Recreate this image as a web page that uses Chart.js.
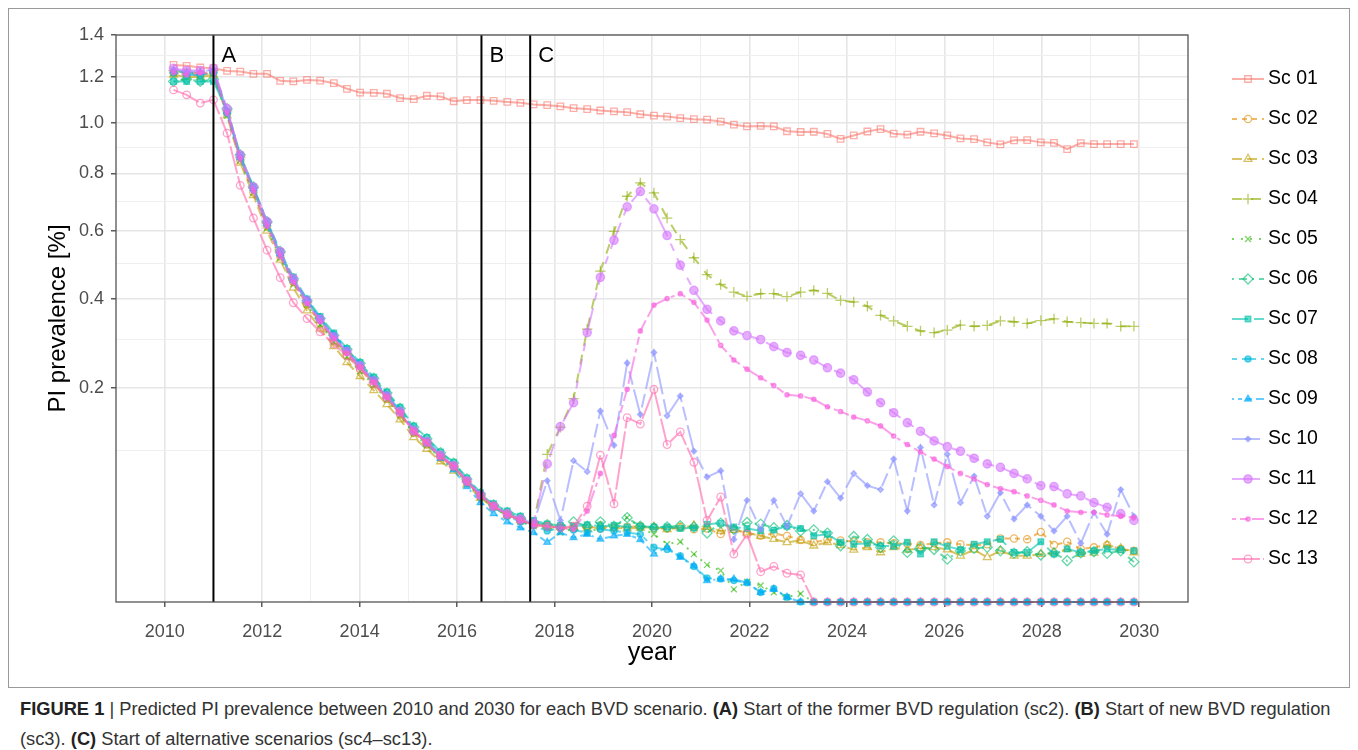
<!DOCTYPE html>
<html>
<head>
<meta charset="utf-8">
<title>PI prevalence</title>
<script src="https://cdn.jsdelivr.net/npm/chart.js"></script>
<style>
  body { margin: 0; background: #fff; font-family: "Liberation Sans", Arial, sans-serif; }
  #frame { position: absolute; left: 8px; top: 8px; width: 1342px; height: 680px; border: 1px solid #9a9a9a; box-sizing: border-box; }
  #chartBox { position: absolute; left: 0; top: 0; width: 1358px; height: 680px; }
  #caption { position: absolute; left: 20px; top: 694px; font-size: 18.3px; line-height: 30px; color: #333; white-space: nowrap; }
  #caption b { color: #222; }
</style>
</head>
<body>
<div id="frame"></div>
<div id="chartBox"><canvas id="myChart" width="1358" height="680"></canvas></div>
<div id="caption"><b>FIGURE 1</b> | Predicted PI prevalence between 2010 and 2030 for each BVD scenario. <b>(A)</b> Start of the former BVD regulation (sc2). <b>(B)</b> Start of new BVD regulation<br>(sc3). <b>(C)</b> Start of alternative scenarios (sc4–sc13).</div>
<script>
// time points (one every ~100 days)
const years = [
  2010.18, 2010.45, 2010.73, 2011.00, 2011.28, 2011.55, 2011.82, 2012.10, 2012.37, 2012.64,
  2012.92, 2013.19, 2013.47, 2013.74, 2014.01, 2014.29, 2014.56, 2014.83, 2015.11, 2015.38,
  2015.66, 2015.93, 2016.20, 2016.48, 2016.75, 2017.03, 2017.30, 2017.57, 2017.85, 2018.12,
  2018.39, 2018.67, 2018.94, 2019.22, 2019.49, 2019.76, 2020.04, 2020.31, 2020.58, 2020.86,
  2021.13, 2021.41, 2021.68, 2021.95, 2022.23, 2022.50, 2022.77, 2023.05, 2023.32, 2023.60,
  2023.87, 2024.14, 2024.42, 2024.69, 2024.96, 2025.24, 2025.51, 2025.79, 2026.06, 2026.33,
  2026.61, 2026.88, 2027.15, 2027.43, 2027.70, 2027.98, 2028.25, 2028.52, 2028.80, 2029.07,
  2029.34, 2029.62, 2029.89
];

// PI prevalence [%] per scenario
const sc01 = [
  1.256, 1.252, 1.244, 1.241, 1.228, 1.225, 1.215, 1.215, 1.183, 1.180,
  1.187, 1.184, 1.172, 1.147, 1.130, 1.129, 1.125, 1.106, 1.101, 1.116,
  1.113, 1.092, 1.097, 1.097, 1.094, 1.089, 1.085, 1.078, 1.075, 1.070,
  1.062, 1.058, 1.052, 1.048, 1.045, 1.036, 1.030, 1.026, 1.020, 1.015,
  1.013, 1.005, 0.992, 0.985, 0.987, 0.985, 0.965, 0.962, 0.963, 0.954,
  0.934, 0.948, 0.964, 0.974, 0.955, 0.951, 0.963, 0.956, 0.948, 0.936,
  0.933, 0.920, 0.912, 0.928, 0.929, 0.920, 0.918, 0.893, 0.917, 0.913,
  0.913, 0.913, 0.913
];
const sc02 = [
  1.220, 1.210, 1.210, 1.220, 1.040, 0.850, 0.730, 0.615, 0.520, 0.445,
  0.385, 0.338, 0.298, 0.265, 0.236, 0.207, 0.180, 0.153, 0.125, 0.108,
  0.091, 0.079, 0.063, 0.048, 0.039, 0.033, 0.029, 0.026, 0.025, 0.024,
  0.0235, 0.025, 0.0235, 0.024, 0.0245, 0.025, 0.024, 0.0235, 0.0245, 0.023,
  0.0235, 0.0201, 0.023, 0.0207, 0.0191, 0.0205, 0.019, 0.0168, 0.0155, 0.017,
  0.0165, 0.016, 0.0155, 0.0155, 0.015, 0.0148, 0.0141, 0.015, 0.0155, 0.0145,
  0.014, 0.0145, 0.0176, 0.0176, 0.0172, 0.0214, 0.0141, 0.0158, 0.0122, 0.013,
  0.0141, 0.0122, 0.0114
];
const sc03 = [
  1.210, 1.200, 1.200, 1.210, 1.030, 0.840, 0.720, 0.600, 0.510, 0.430,
  0.370, 0.325, 0.285, 0.250, 0.222, 0.195, 0.170, 0.145, 0.118, 0.102,
  0.086, 0.075, 0.060, 0.047, 0.039, 0.033, 0.029, 0.026, 0.025, 0.0245,
  0.024, 0.0235, 0.025, 0.024, 0.0235, 0.024, 0.0245, 0.023, 0.024, 0.0255,
  0.0245, 0.022, 0.0225, 0.021, 0.019, 0.0172, 0.0155, 0.0165, 0.0138, 0.0155,
  0.014, 0.0119, 0.013, 0.0107, 0.013, 0.0119, 0.0125, 0.013, 0.012, 0.0093,
  0.0119, 0.0087, 0.0114, 0.0093, 0.0093, 0.010, 0.0105, 0.0122, 0.010, 0.0105,
  0.0141, 0.0125, 0.0107
];
const sc04 = [
  1.230, 1.220, 1.220, 1.230, 1.050, 0.860, 0.745, 0.625, 0.530, 0.450,
  0.390, 0.340, 0.300, 0.268, 0.240, 0.210, 0.182, 0.155, 0.126, 0.110,
  0.092, 0.080, 0.063, 0.049, 0.040, 0.034, 0.030, 0.027, 0.095, 0.133,
  0.180, 0.324, 0.477, 0.598, 0.717, 0.765, 0.729, 0.642, 0.572, 0.516,
  0.467, 0.439, 0.418, 0.407, 0.414, 0.414, 0.406, 0.418, 0.423, 0.415,
  0.396, 0.392, 0.381, 0.358, 0.344, 0.331, 0.320, 0.316, 0.322, 0.334,
  0.331, 0.333, 0.344, 0.342, 0.338, 0.345, 0.349, 0.342, 0.340, 0.338,
  0.338, 0.331, 0.331
];
const sc05 = [
  1.215, 1.220, 1.210, 1.220, 1.030, 0.850, 0.730, 0.610, 0.515, 0.440,
  0.385, 0.335, 0.295, 0.262, 0.232, 0.205, 0.178, 0.152, 0.124, 0.107,
  0.090, 0.078, 0.062, 0.048, 0.039, 0.032, 0.028, 0.025, 0.024, 0.021,
  0.0235, 0.021, 0.024, 0.024, 0.031, 0.024, 0.020, 0.0146, 0.0158, 0.010,
  0.006, 0.0043, 0.0007, 0.0018, 0.0012, 0.0004, 0.0001, 0.0003, 0, 0,
  0, 0, 0, 0, 0, 0, 0, 0, 0, 0,
  0, 0, 0, 0, 0, 0, 0, 0, 0, 0,
  0, 0, 0
];
const sc06 = [
  1.180, 1.190, 1.180, 1.190, 1.060, 0.870, 0.750, 0.630, 0.535, 0.455,
  0.395, 0.350, 0.310, 0.278, 0.248, 0.218, 0.190, 0.163, 0.133, 0.116,
  0.097, 0.084, 0.066, 0.051, 0.041, 0.035, 0.031, 0.0275, 0.026, 0.025,
  0.028, 0.025, 0.028, 0.025, 0.031, 0.025, 0.024, 0.0245, 0.0253, 0.0245,
  0.0207, 0.0271, 0.023, 0.0275, 0.0264, 0.024, 0.0255, 0.022, 0.0227, 0.0207,
  0.0138, 0.0187, 0.017, 0.013, 0.0163, 0.0107, 0.013, 0.012, 0.008, 0.0114,
  0.0125, 0.013, 0.0114, 0.0104, 0.011, 0.0096, 0.0105, 0.0074, 0.0105, 0.011,
  0.0103, 0.0114, 0.007
];
const sc07 = [
  1.180, 1.180, 1.180, 1.180, 1.050, 0.870, 0.750, 0.630, 0.535, 0.460,
  0.400, 0.355, 0.315, 0.280, 0.250, 0.220, 0.192, 0.165, 0.135, 0.118,
  0.098, 0.085, 0.067, 0.052, 0.042, 0.036, 0.032, 0.029, 0.0265, 0.0255,
  0.025, 0.026, 0.025, 0.0255, 0.0245, 0.025, 0.0245, 0.0245, 0.0235, 0.024,
  0.0264, 0.027, 0.0245, 0.0235, 0.0221, 0.0225, 0.025, 0.0235, 0.0191, 0.020,
  0.0155, 0.0145, 0.015, 0.0138, 0.0135, 0.0155, 0.010, 0.0158, 0.0135, 0.0119,
  0.0145, 0.0158, 0.0172, 0.0107, 0.0107, 0.0158, 0.010, 0.0122, 0.0107, 0.0114,
  0.0122, 0.0119, 0.0114
];
const sc08 = [
  1.220, 1.210, 1.210, 1.220, 1.040, 0.860, 0.740, 0.620, 0.525, 0.450,
  0.395, 0.348, 0.308, 0.275, 0.245, 0.215, 0.187, 0.160, 0.130, 0.113,
  0.094, 0.081, 0.064, 0.049, 0.039, 0.032, 0.028, 0.0255, 0.022, 0.024,
  0.0225, 0.021, 0.023, 0.022, 0.021, 0.020, 0.013, 0.012, 0.0093, 0.0055,
  0.0025, 0.0023, 0.002, 0.0016, 0.0004, 0.0008, 0.0001, 0, 0, 0,
  0, 0, 0, 0, 0, 0, 0, 0, 0, 0,
  0, 0, 0, 0, 0, 0, 0, 0, 0, 0,
  0, 0, 0
];
const sc09 = [
  1.230, 1.220, 1.220, 1.230, 1.050, 0.860, 0.745, 0.625, 0.530, 0.452,
  0.398, 0.350, 0.310, 0.276, 0.245, 0.214, 0.185, 0.157, 0.128, 0.109,
  0.090, 0.076, 0.058, 0.043, 0.034, 0.028, 0.024, 0.021, 0.0155, 0.021,
  0.018, 0.020, 0.0172, 0.019, 0.020, 0.017, 0.010, 0.013, 0.0087, 0.0057,
  0.002, 0.0023, 0.0023, 0.0016, 0.0004, 0.0007, 0.0001, 0, 0, 0,
  0, 0, 0, 0, 0, 0, 0, 0, 0, 0,
  0, 0, 0, 0, 0, 0, 0, 0, 0, 0,
  0, 0, 0
];
const sc10 = [
  1.235, 1.225, 1.225, 1.235, 1.050, 0.860, 0.745, 0.625, 0.530, 0.450,
  0.392, 0.345, 0.305, 0.272, 0.242, 0.212, 0.184, 0.158, 0.128, 0.112,
  0.094, 0.081, 0.065, 0.050, 0.040, 0.034, 0.030, 0.027, 0.064, 0.029,
  0.087, 0.074, 0.159, 0.107, 0.249, 0.153, 0.271, 0.151, 0.185, 0.099,
  0.068, 0.075, 0.017, 0.045, 0.023, 0.045, 0.025, 0.051, 0.036, 0.063,
  0.047, 0.072, 0.059, 0.055, 0.089, 0.036, 0.104, 0.041, 0.095, 0.043,
  0.069, 0.032, 0.052, 0.030, 0.041, 0.032, 0.022, 0.032, 0.015, 0.035,
  0.020, 0.055, 0.032
];
const sc11 = [
  1.240, 1.230, 1.230, 1.240, 1.060, 0.870, 0.750, 0.630, 0.535, 0.455,
  0.395, 0.348, 0.306, 0.273, 0.243, 0.213, 0.185, 0.158, 0.128, 0.112,
  0.094, 0.081, 0.064, 0.050, 0.040, 0.034, 0.030, 0.027, 0.083, 0.134,
  0.173, 0.316, 0.459, 0.570, 0.680, 0.734, 0.673, 0.585, 0.494, 0.423,
  0.373, 0.344, 0.320, 0.309, 0.300, 0.284, 0.271, 0.265, 0.255, 0.239,
  0.228, 0.215, 0.192, 0.173, 0.156, 0.140, 0.127, 0.113, 0.105, 0.099,
  0.090, 0.083, 0.079, 0.072, 0.066, 0.059, 0.058, 0.051, 0.049, 0.043,
  0.039, 0.034, 0.029
];
const sc12 = [
  1.220, 1.210, 1.220, 1.220, 1.040, 0.855, 0.735, 0.615, 0.520, 0.445,
  0.388, 0.342, 0.302, 0.270, 0.240, 0.210, 0.182, 0.156, 0.127, 0.110,
  0.092, 0.080, 0.063, 0.049, 0.040, 0.033, 0.029, 0.026, 0.025, 0.024,
  0.023, 0.036, 0.072, 0.121, 0.197, 0.320, 0.384, 0.401, 0.414, 0.391,
  0.346, 0.287, 0.255, 0.236, 0.219, 0.204, 0.187, 0.185, 0.179, 0.166,
  0.158, 0.149, 0.143, 0.135, 0.120, 0.108, 0.098, 0.089, 0.080, 0.072,
  0.066, 0.060, 0.056, 0.053, 0.049, 0.045, 0.041, 0.036, 0.035, 0.035,
  0.033, 0.032, 0.031
];
const sc13 = [
  1.142, 1.120, 1.084, 1.098, 0.957, 0.756, 0.642, 0.539, 0.458, 0.390,
  0.350, 0.318, 0.290, 0.264, 0.237, 0.208, 0.181, 0.155, 0.126, 0.110,
  0.092, 0.080, 0.063, 0.049, 0.040, 0.033, 0.029, 0.026, 0.025, 0.024,
  0.025, 0.040, 0.094, 0.042, 0.148, 0.138, 0.197, 0.108, 0.126, 0.085,
  0.029, 0.048, 0.010, 0.020, 0.004, 0.0055, 0.0036, 0.0032, 0, 0,
  0, 0, 0, 0, 0, 0, 0, 0, 0, 0,
  0, 0, 0, 0, 0, 0, 0, 0, 0, 0,
  0, 0, 0
];

const seriesNames = ['Sc 01', 'Sc 02', 'Sc 03', 'Sc 04', 'Sc 05', 'Sc 06', 'Sc 07',
                     'Sc 08', 'Sc 09', 'Sc 10', 'Sc 11', 'Sc 12', 'Sc 13'];
const seriesValues = [sc01, sc02, sc03, sc04, sc05, sc06, sc07, sc08, sc09, sc10, sc11, sc12, sc13];

// axis ticks
const yMajor = [0.2, 0.4, 0.6, 0.8, 1.0, 1.2, 1.4];
const yMinor = [0.1, 0.3, 0.5, 0.7, 0.9, 1.1, 1.3];
const xLabels = [2010, 2012, 2014, 2016, 2018, 2020, 2022, 2024, 2026, 2028, 2030];
const xGrid = [2010, 2011, 2012, 2013, 2014, 2015, 2016, 2017, 2018, 2019, 2020,
               2021, 2022, 2023, 2024, 2025, 2026, 2027, 2028, 2029, 2030];

// regulation events
const eventYears = [2011, 2016.5, 2017.5];
const eventLabels = ['A', 'B', 'C'];

// ggplot style look
const colors = ['#F8766D', '#E18A00', '#BE9C00', '#8CAB00', '#24B700', '#00BE70', '#00C1AB',
                '#00BBDA', '#00ACFC', '#8B93FF', '#D575FE', '#F962DD', '#FF65AC'];
const dashes = [[], [5, 5], [10, 5], [10, 9], [2, 7], [2, 5, 8, 5], [16, 6], [5, 5, 14, 5],
                [2, 4, 4, 4, 6, 4, 8, 4], [28, 5, 14, 5], [28, 8, 8, 8, 14, 8, 8, 8],
                [4, 4, 8, 4, 14, 4, 28, 4], [28, 3]];
const shapes = ['rect', 'circle', 'triangle', 'cross', 'crossRot', 'rectRot', 'rect',
                'circle', 'triangle', 'rectRot', 'circle', 'circle', 'circle'];
const filled = [false, false, false, false, false, false, true, true, true, true, true, true, false];
const radii = [4.6, 3.6, 4.6, 5.2, 4.2, 5, 4, 3.1, 4, 2.8, 4.2, 2.2, 3.8];
const alpha = 0.6;

function rgba(hex, a) {
  const n = parseInt(hex.slice(1), 16);
  return `rgba(${(n >> 16) & 255}, ${(n >> 8) & 255}, ${n & 255}, ${a})`;
}

// square root y axis (like coord_trans(y = "sqrt"))
class SqrtScale extends Chart.LinearScale {
  static id = 'sqrt';
  static defaults = {};
  getPixelForValue(value) {
    if (value === null || value === undefined || isNaN(value)) return NaN;
    const lo = Math.sqrt(this.min), hi = Math.sqrt(this.max);
    return this.getPixelForDecimal((Math.sqrt(Math.max(value, 0)) - lo) / (hi - lo));
  }
  getValueForPixel(pixel) {
    const lo = Math.sqrt(this.min), hi = Math.sqrt(this.max);
    const s = lo + this.getDecimalForPixel(pixel) * (hi - lo);
    return s * s;
  }
}
Chart.register(SqrtScale);

const isYMajor = v => yMajor.some(m => Math.abs(m - v) < 1e-6);
const isXMajor = v => xLabels.includes(v);

const datasets = seriesValues.map((vals, i) => ({
  label: seriesNames[i],
  data: years.map((x, j) => ({ x: x, y: vals[j] })),
  borderColor: rgba(colors[i], alpha),
  backgroundColor: filled[i] ? rgba(colors[i], alpha) : 'rgba(0,0,0,0)',
  borderWidth: 2,
  borderDash: dashes[i],
  pointStyle: shapes[i],
  pointRadius: radii[i],
  pointBorderWidth: 1.3,
  pointBorderColor: rgba(colors[i], alpha),
  pointBackgroundColor: filled[i] ? rgba(colors[i], alpha) : 'rgba(0,0,0,0)',
  tension: 0,
  fill: false,
  clip: false,
  order: seriesNames.length - i
}));

function drawMarker(ctx, i, x, y) {
  ctx.save();
  ctx.setLineDash([]);
  ctx.strokeStyle = rgba(colors[i], alpha);
  ctx.fillStyle = filled[i] ? rgba(colors[i], alpha) : 'rgba(0,0,0,0)';
  ctx.lineWidth = 1.3;
  Chart.helpers.drawPoint(ctx, { pointStyle: shapes[i], radius: radii[i], rotation: 0, borderWidth: 1.3 }, x, y);
  ctx.restore();
}

// event lines, labels A B C and the panel border
const panelPlugin = {
  id: 'panel',
  afterDatasetsDraw(chart) {
    const { ctx, chartArea, scales } = chart;
    ctx.save();
    eventYears.forEach((yr, k) => {
      const px = scales.x.getPixelForValue(yr);
      ctx.strokeStyle = '#000';
      ctx.lineWidth = 2;
      ctx.beginPath();
      ctx.moveTo(px, chartArea.top);
      ctx.lineTo(px, chartArea.bottom);
      ctx.stroke();
      ctx.fillStyle = '#000';
      ctx.font = '22px "Liberation Sans", Arial, sans-serif';
      ctx.textAlign = 'left';
      ctx.textBaseline = 'middle';
      ctx.fillText(eventLabels[k], px + 8, scales.y.getPixelForValue(1.3));
    });
    ctx.strokeStyle = '#555';
    ctx.lineWidth = 1.3;
    ctx.strokeRect(chartArea.left, chartArea.top, chartArea.right - chartArea.left, chartArea.bottom - chartArea.top);
    ctx.restore();
  }
};

// legend with line + marker keys
const keyLegend = {
  id: 'keyLegend',
  afterDraw(chart) {
    const ctx = chart.ctx;
    ctx.save();
    seriesNames.forEach((name, i) => {
      const y = 79 + i * 40;
      ctx.strokeStyle = rgba(colors[i], alpha);
      ctx.lineWidth = 2;
      ctx.setLineDash(dashes[i]);
      ctx.beginPath();
      ctx.moveTo(1232, y);
      ctx.lineTo(1264, y);
      ctx.stroke();
      drawMarker(ctx, i, 1248, y);
      ctx.fillStyle = '#000';
      ctx.font = '19.5px "Liberation Sans", Arial, sans-serif';
      ctx.textAlign = 'left';
      ctx.textBaseline = 'middle';
      ctx.fillText(name, 1268, y);
    });
    ctx.restore();
  }
};

Chart.defaults.font.family = '"Liberation Sans", Arial, sans-serif';

const ctx = document.getElementById('myChart');

new Chart(ctx, {
  type: 'line',
  data: { datasets: datasets },
  options: {
    responsive: false,
    animation: false,
    devicePixelRatio: 1,
    layout: { padding: { left: 0, top: 35, right: 170, bottom: 8 } },
    plugins: {
      legend: { display: false },
      tooltip: { enabled: false }
    },
    scales: {
      x: {
        type: 'linear',
        min: 2009,
        max: 2031,
        afterFit: s => { s.height = 70; },
        afterBuildTicks: s => { s.ticks = xGrid.map(v => ({ value: v })); },
        ticks: {
          autoSkip: false,
          maxRotation: 0,
          padding: 14,
          color: '#4D4D4D',
          font: { size: 18 },
          callback: v => isXMajor(v) ? String(v) : ''
        },
        grid: {
          color: c => isXMajor(c.tick.value) ? '#E6E6E6' : '#EFEFEF',
          lineWidth: c => isXMajor(c.tick.value) ? 1.6 : 1,
          tickColor: c => isXMajor(c.tick.value) ? '#333' : 'rgba(0,0,0,0)',
          tickLength: 5,
          tickWidth: 1.2
        },
        border: { display: false },
        title: { display: true, text: 'year', color: '#000', font: { size: 25 }, padding: { top: 0, bottom: 4 } }
      },
      y: {
        type: 'sqrt',
        min: 0,
        max: 1.4,
        afterFit: s => { s.width = 116; },
        afterBuildTicks: s => { s.ticks = yMinor.concat(yMajor).sort((a, b) => a - b).map(v => ({ value: v })); },
        ticks: {
          autoSkip: false,
          padding: 7,
          color: '#4D4D4D',
          font: { size: 18 },
          callback: v => isYMajor(v) ? v.toFixed(1) : ''
        },
        grid: {
          color: c => isYMajor(c.tick.value) ? '#E6E6E6' : '#EFEFEF',
          lineWidth: c => isYMajor(c.tick.value) ? 1.6 : 1,
          tickColor: c => isYMajor(c.tick.value) ? '#333' : 'rgba(0,0,0,0)',
          tickLength: 5,
          tickWidth: 1.2
        },
        border: { display: false },
        title: { display: true, text: 'PI prevalence [%]', color: '#000', font: { size: 24 }, padding: { top: 44, bottom: 0 } }
      }
    }
  },
  plugins: [panelPlugin, keyLegend]
});
</script>
</body>
</html>
